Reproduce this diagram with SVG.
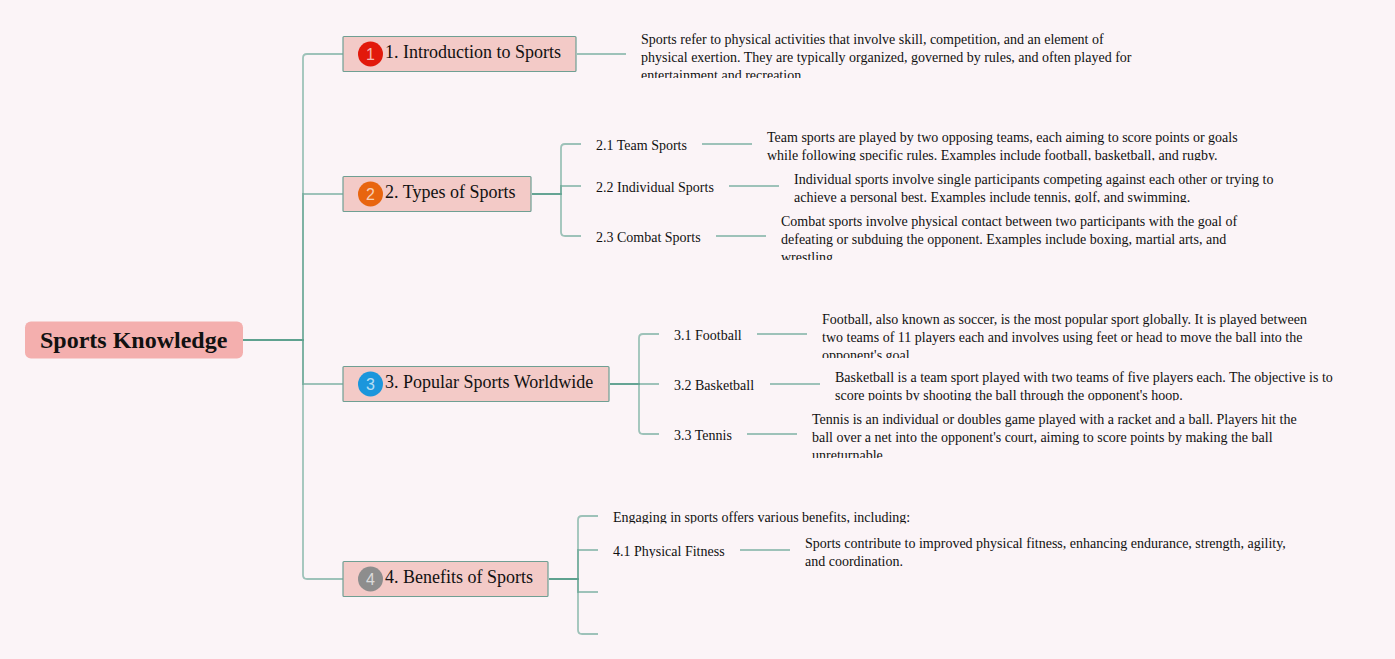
<svg xmlns="http://www.w3.org/2000/svg" width="1395" height="659" viewBox="0 0 1395 659">
<style>
text{font-family:"Liberation Serif","Times New Roman",serif;fill:#111}
.d{font-size:14px}
.s{font-size:14px}
.t{font-size:18px}
.n{font-family:"Liberation Sans",Arial,sans-serif;font-size:16px;fill:#fff;fill-opacity:.7;text-anchor:middle}
.topic{fill:#f3cac7;stroke:#6f9f93;stroke-width:1.2}
.c{fill:none;stroke:#5a9f8b;stroke-opacity:.58;stroke-width:1.8}
</style>
<defs>
<clipPath id="c1"><rect x="630" y="28" width="520" height="50"/></clipPath>
<clipPath id="c21"><rect x="760" y="128" width="500" height="32.500"/></clipPath>
<clipPath id="c22"><rect x="785" y="170" width="500" height="32.500"/></clipPath>
<clipPath id="c23"><rect x="770" y="212" width="500" height="48"/></clipPath>
<clipPath id="c31"><rect x="815" y="310" width="500" height="48"/></clipPath>
<clipPath id="c32"><rect x="825" y="368" width="515" height="32.500"/></clipPath>
<clipPath id="c33"><rect x="805" y="410" width="500" height="48"/></clipPath>
<clipPath id="c40"><rect x="605" y="508" width="320" height="15.500"/></clipPath>
<clipPath id="c41"><rect x="605" y="542" width="130" height="16"/></clipPath>
</defs>
<rect width="1395" height="659" fill="#fbf4f7"/>
<g id="connectors">
<path class="c" d="M243 340H303V58Q303 54 307 54H343"/>
<path class="c" d="M243 340H303V194H343"/>
<path class="c" d="M243 340H303V384H343"/>
<path class="c" d="M243 340H303V575Q303 579 307 579H343"/>
<path class="c" d="M577 54H626"/>
<path class="c" d="M532 194H561V148Q561 144 565 144H581"/>
<path class="c" d="M532 194H561V186H581"/>
<path class="c" d="M532 194H561V232Q561 236 565 236H581"/>
<path class="c" d="M702 144H752M729 186H779M716 236H766"/>
<path class="c" d="M610 384H639V338Q639 334 643 334H659"/>
<path class="c" d="M610 384H639H659"/>
<path class="c" d="M610 384H639V430Q639 434 643 434H659"/>
<path class="c" d="M757 334H807M770 384H820M747 434H797"/>
<path class="c" d="M549 579H578V520Q578 516 582 516H598"/>
<path class="c" d="M549 579H578V550H598"/>
<path class="c" d="M549 579H578V592H598"/>
<path class="c" d="M549 579H578V630Q578 634 582 634H598"/>
<path class="c" d="M740 550H790"/>
</g>
<g id="root">
<rect x="25" y="321.500" width="218" height="37" rx="6" fill="#f4afae"/>
<text x="40" y="348" font-size="24" font-weight="700">Sports Knowledge</text>
</g>
<g id="topic1">
<rect class="topic" x="343" y="36.500" width="233" height="35" rx="1"/>
<circle cx="370.500" cy="54" r="12.500" fill="#e2190b"/><text class="n" x="370.500" y="60">1</text>
<text class="t" x="385" y="58">1. Introduction to Sports</text>
</g>
<g id="topic2">
<rect class="topic" x="343" y="176.500" width="188" height="35" rx="1"/>
<circle cx="370.500" cy="194" r="12.500" fill="#e8650f"/><text class="n" x="370.500" y="200">2</text>
<text class="t" x="385" y="198">2. Types of Sports</text>
</g>
<g id="topic3">
<rect class="topic" x="343" y="366.500" width="266" height="35" rx="1"/>
<circle cx="370.500" cy="384" r="12.500" fill="#1b96dc"/><text class="n" x="370.500" y="390">3</text>
<text class="t" x="385" y="388">3. Popular Sports Worldwide</text>
</g>
<g id="topic4">
<rect class="topic" x="343" y="561.500" width="205" height="35" rx="1"/>
<circle cx="370.500" cy="579" r="12.500" fill="#8d8d8d"/><text class="n" x="370.500" y="585">4</text>
<text class="t" x="385" y="583">4. Benefits of Sports</text>
</g>
<g id="desc1"><g clip-path="url(#c1)" class="d">
<text x="641" y="44">Sports refer to physical activities that involve skill, competition, and an element of</text>
<text x="641" y="62">physical exertion. They are typically organized, governed by rules, and often played for</text>
<text x="641" y="80">entertainment and recreation.</text>
</g></g>
<g id="sub21"><text class="s" x="596" y="150">2.1 Team Sports</text></g>
<g id="desc21"><g clip-path="url(#c21)" class="d">
<text x="767" y="142">Team sports are played by two opposing teams, each aiming to score points or goals</text>
<text x="767" y="160">while following specific rules. Examples include football, basketball, and rugby.</text>
</g></g>
<g id="sub22"><text class="s" x="596" y="192">2.2 Individual Sports</text></g>
<g id="desc22"><g clip-path="url(#c22)" class="d">
<text x="794" y="184">Individual sports involve single participants competing against each other or trying to</text>
<text x="794" y="202">achieve a personal best. Examples include tennis, golf, and swimming.</text>
</g></g>
<g id="sub23"><text class="s" x="596" y="242">2.3 Combat Sports</text></g>
<g id="desc23"><g clip-path="url(#c23)" class="d">
<text x="781" y="226">Combat sports involve physical contact between two participants with the goal of</text>
<text x="781" y="244">defeating or subduing the opponent. Examples include boxing, martial arts, and</text>
<text x="781" y="262">wrestling.</text>
</g></g>
<g id="sub31"><text class="s" x="674" y="340">3.1 Football</text></g>
<g id="desc31"><g clip-path="url(#c31)" class="d">
<text x="822" y="324">Football, also known as soccer, is the most popular sport globally. It is played between</text>
<text x="822" y="342">two teams of 11 players each and involves using feet or head to move the ball into the</text>
<text x="822" y="360">opponent's goal.</text>
</g></g>
<g id="sub32"><text class="s" x="674" y="390">3.2 Basketball</text></g>
<g id="desc32"><g clip-path="url(#c32)" class="d">
<text x="835" y="382">Basketball is a team sport played with two teams of five players each. The objective is to</text>
<text x="835" y="400">score points by shooting the ball through the opponent's hoop.</text>
</g></g>
<g id="sub33"><text class="s" x="674" y="440">3.3 Tennis</text></g>
<g id="desc33"><g clip-path="url(#c33)" class="d">
<text x="812" y="424">Tennis is an individual or doubles game played with a racket and a ball. Players hit the</text>
<text x="812" y="442">ball over a net into the opponent's court, aiming to score points by making the ball</text>
<text x="812" y="460">unreturnable.</text>
</g></g>
<g id="sub40"><g clip-path="url(#c40)"><text class="s" x="613" y="522">Engaging in sports offers various benefits, including:</text></g></g>
<g id="sub41"><g clip-path="url(#c41)"><text class="s" x="613" y="556">4.1 Physical Fitness</text></g></g>
<g id="desc41" class="d">
<text x="805" y="548">Sports contribute to improved physical fitness, enhancing endurance, strength, agility,</text>
<text x="805" y="566">and coordination.</text>
</g>
</svg>
